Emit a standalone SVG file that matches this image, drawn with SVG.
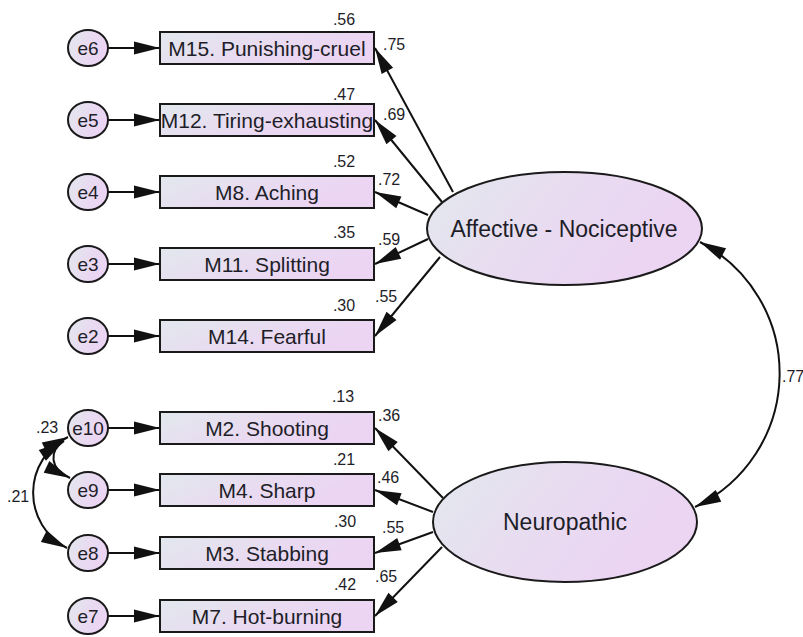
<svg xmlns="http://www.w3.org/2000/svg" width="803" height="637" viewBox="0 0 803 637">
<style>
text{font-family:"Liberation Sans",Arial,sans-serif;fill:#1e1e28}
.box{stroke:#1a1a1a;stroke-width:2;fill:url(#g)}
.lat{stroke:#1a1a1a;stroke-width:2;fill:url(#g)}
.err{stroke:#1a1a1a;stroke-width:2;fill:url(#g)}
.t{font-size:21px;text-anchor:middle}
.lt{font-size:23px;text-anchor:middle}
.et{font-size:19px;text-anchor:middle}
.n{font-size:16px}
.nm{font-size:16px;text-anchor:middle}
.c{stroke:#111;stroke-width:2;fill:none}
.a{marker-end:url(#ah)}
.aa{marker-end:url(#ah);marker-start:url(#ah)}
</style>
<defs>
<linearGradient id="g" x1="0" y1="0" x2="1" y2="0.35">
<stop offset="0" stop-color="#e2e8ed"/>
<stop offset="0.6" stop-color="#e9daf1"/>
<stop offset="1" stop-color="#ecd4f3"/>
</linearGradient>
<marker id="ah" markerUnits="userSpaceOnUse" markerWidth="28" markerHeight="14" refX="26" refY="6.5" orient="auto-start-reverse" viewBox="0 0 28 14" overflow="visible">
<path d="M0,0 L26,6.5 L0,13 z" fill="#111"/>
</marker>
</defs>
<rect width="803" height="637" fill="#fff"/>

<g id="connectors">
<line class="c a" x1="108" y1="48" x2="160" y2="48"/>
<line class="c a" x1="108" y1="120" x2="160" y2="120"/>
<line class="c a" x1="108" y1="192" x2="160" y2="192"/>
<line class="c a" x1="108" y1="264" x2="160" y2="264"/>
<line class="c a" x1="108" y1="336" x2="160" y2="336"/>
<line class="c a" x1="108" y1="428" x2="160" y2="428"/>
<line class="c a" x1="108" y1="490" x2="160" y2="490"/>
<line class="c a" x1="108" y1="553" x2="160" y2="553"/>
<line class="c a" x1="108" y1="616" x2="160" y2="616"/>
<line class="c a" x1="453" y1="192" x2="375" y2="48"/>
<line class="c a" x1="442" y1="202" x2="375" y2="120"/>
<line class="c a" x1="428" y1="215" x2="375" y2="192"/>
<line class="c a" x1="428" y1="239" x2="375" y2="264"/>
<line class="c a" x1="440" y1="257" x2="375" y2="336"/>
<line class="c a" x1="443" y1="498" x2="375" y2="428"/>
<line class="c a" x1="433" y1="512" x2="375" y2="490"/>
<line class="c a" x1="433" y1="532" x2="375" y2="553"/>
<line class="c a" x1="442" y1="547" x2="375" y2="616"/>
<path class="c aa" d="M700,242 A148,148 0 0 1 695,507"/>
<path class="c aa" d="M68,437 A62,62 0 0 0 67,548"/>
<path class="c aa" d="M64,441 C49,451 49,468 70,478"/>
</g>

<g id="M15"><rect class="box" x="160" y="32" width="214" height="32"/><text class="t" x="267" y="55.5">M15. Punishing-cruel</text></g>
<g id="M12"><rect class="box" x="160" y="104" width="214" height="32"/><text class="t" x="267" y="127.5">M12. Tiring-exhausting</text></g>
<g id="M8"><rect class="box" x="160" y="176" width="214" height="32"/><text class="t" x="267" y="199.5">M8. Aching</text></g>
<g id="M11"><rect class="box" x="160" y="248" width="214" height="32"/><text class="t" x="267" y="271.5">M11. Splitting</text></g>
<g id="M14"><rect class="box" x="160" y="320" width="214" height="32"/><text class="t" x="267" y="343.5">M14. Fearful</text></g>
<g id="M2"><rect class="box" x="160" y="412" width="214" height="32"/><text class="t" x="267" y="435.5">M2. Shooting</text></g>
<g id="M4"><rect class="box" x="160" y="474" width="214" height="32"/><text class="t" x="267" y="497.5">M4. Sharp</text></g>
<g id="M3"><rect class="box" x="160" y="537" width="214" height="32"/><text class="t" x="267" y="560.5">M3. Stabbing</text></g>
<g id="M7"><rect class="box" x="160" y="600" width="214" height="32"/><text class="t" x="267" y="623.5">M7. Hot-burning</text></g>

<g id="e6"><ellipse class="err" cx="88" cy="48" rx="20" ry="18"/><text class="et" x="88" y="55">e6</text></g>
<g id="e5"><ellipse class="err" cx="88" cy="120" rx="20" ry="18"/><text class="et" x="88" y="127">e5</text></g>
<g id="e4"><ellipse class="err" cx="88" cy="192" rx="20" ry="18"/><text class="et" x="88" y="199">e4</text></g>
<g id="e3"><ellipse class="err" cx="88" cy="264" rx="20" ry="18"/><text class="et" x="88" y="271">e3</text></g>
<g id="e2"><ellipse class="err" cx="88" cy="336" rx="20" ry="18"/><text class="et" x="88" y="343">e2</text></g>
<g id="e10"><ellipse class="err" cx="88" cy="428" rx="20" ry="18"/><text class="et" x="88" y="435">e10</text></g>
<g id="e9"><ellipse class="err" cx="88" cy="490" rx="20" ry="18"/><text class="et" x="88" y="497">e9</text></g>
<g id="e8"><ellipse class="err" cx="88" cy="553" rx="20" ry="18"/><text class="et" x="88" y="560">e8</text></g>
<g id="e7"><ellipse class="err" cx="88" cy="616" rx="20" ry="18"/><text class="et" x="88" y="623">e7</text></g>

<g id="AffectiveNociceptive"><ellipse class="lat" cx="564.5" cy="228.5" rx="137.5" ry="56.5"/><text class="lt" x="564" y="236.5">Affective - Nociceptive</text></g>
<g id="Neuropathic"><ellipse class="lat" cx="565" cy="522" rx="132" ry="60"/><text class="lt" x="565" y="530">Neuropathic</text></g>

<g id="labels">
<text class="nm" x="344" y="25">.56</text>
<text class="n" x="383" y="50">.75</text>
<text class="nm" x="344" y="100">.47</text>
<text class="n" x="383" y="120">.69</text>
<text class="nm" x="344" y="167">.52</text>
<text class="n" x="378" y="185">.72</text>
<text class="nm" x="344" y="238">.35</text>
<text class="n" x="378" y="245">.59</text>
<text class="nm" x="344" y="311">.30</text>
<text class="n" x="375" y="302">.55</text>
<text class="nm" x="343" y="402">.13</text>
<text class="n" x="378" y="421">.36</text>
<text class="nm" x="344" y="465">.21</text>
<text class="n" x="377" y="483">.46</text>
<text class="nm" x="345" y="527">.30</text>
<text class="n" x="382" y="533">.55</text>
<text class="nm" x="345" y="590">.42</text>
<text class="n" x="375" y="582">.65</text>
<text class="n" x="782" y="382">.77</text>
<text class="n" x="36" y="433">.23</text>
<text class="n" x="7" y="502">.21</text>
</g>
</svg>
